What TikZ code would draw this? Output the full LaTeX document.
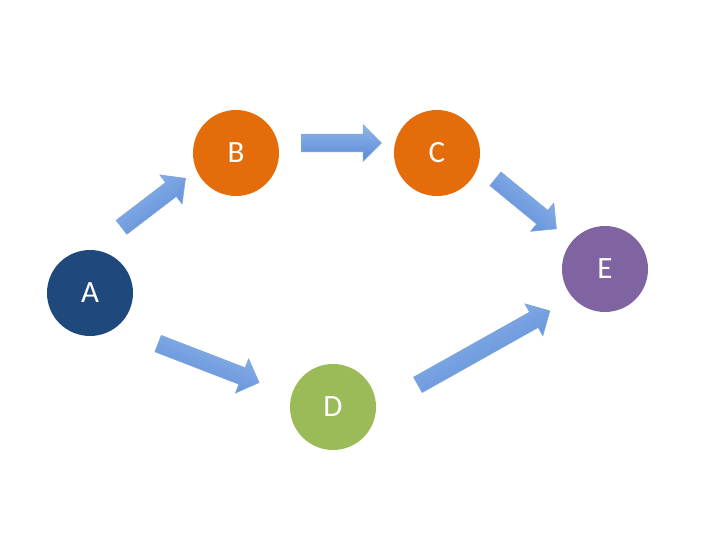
\documentclass[tikz,border=0pt]{standalone}
\usepackage{fontspec}
\setmainfont{Carlito}
\usetikzlibrary{shapes.arrows,calc}
\definecolor{cA}{HTML}{1F497D}
\definecolor{cB}{HTML}{E46C0A}
\definecolor{cD}{HTML}{9BBB59}
\definecolor{cE}{HTML}{8064A2}
\definecolor{arrTop}{HTML}{90B6E8}
\definecolor{arrBot}{HTML}{5A8AD8}
\definecolor{arrLine}{HTML}{7FA6DC}
\begin{document}
\begin{tikzpicture}[x=1pt,y=-1pt,
  ball/.style={circle,minimum size=86pt,inner sep=0pt,text=white,font=\fontsize{31}{35}\selectfont},
  blk/.style={single arrow,single arrow head extend=9.5pt,minimum width=36pt,inner xsep=0pt,inner ysep=8.5pt,
    top color=arrTop,bottom color=arrBot,draw=arrLine,line width=0.6pt},
  ]
\useasboundingbox (0,0) rectangle (720,540);
\node[ball,fill=cA] (A) at (90,293) {A};
\node[ball,fill=cB] (B) at (236,153) {B};
\node[ball,fill=cB] (C) at (437,153) {C};
\node[ball,fill=cD] (D) at (333,407) {D};
\node[ball,fill=cE] (E) at (605,269) {E};
\coordinate (ab1) at (118,230); \coordinate (ab2) at (182,181);
\coordinate (bc1) at (297,143); \coordinate (bc2) at (377,143);
\coordinate (ce1) at (492,176); \coordinate (ce2) at (553,226);
\coordinate (ad1) at (154,342); \coordinate (ad2) at (255,381);
\coordinate (de1) at (414,387); \coordinate (de2) at (546,313);
\foreach \ta/\hd/\nm in {ab1/ab2/AB,bc1/bc2/BC,ce1/ce2/CE,ad1/ad2/AD,de1/de2/DE}{
  \path let \p1=($(\hd)-(\ta)$), \n1={veclen(\x1,\y1)}, \n2={atan2(\y1,\x1)} in
    node[blk,shading angle=\n2,minimum height=\n1,rotate=\n2] (\nm) at ($(\ta)!0.5!(\hd)$) {};
}
\end{tikzpicture}
\end{document}
